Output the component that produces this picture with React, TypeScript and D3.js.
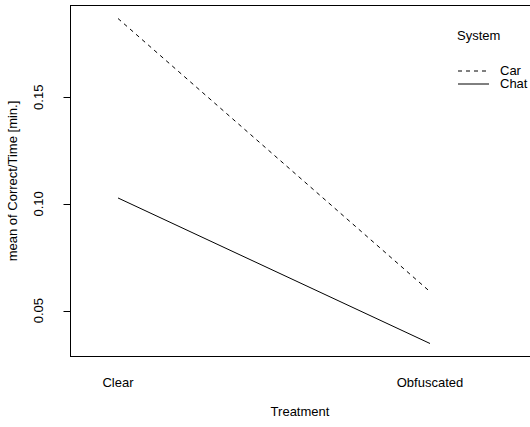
import React from "react";
import * as d3 from "d3";

const treatments = ["Clear", "Obfuscated"];
const systems = ["Car", "Chat"];
const carValues = [0.1869, 0.0589];
const chatValues = [0.1028, 0.0346];
const yTicks = [0.05, 0.1, 0.15];
const yTickLabels = ["0.05", "0.10", "0.15"];
const dashes = ["4,4", null];

export default function App() {
  const W = 530, H = 427;
  const left = 70.5, right = 535.5, top = 5.5, bottom = 356.5;
  const all = [...carValues, ...chatValues];
  const lo = d3.min(all)!, hi = d3.max(all)!;
  const pad = (hi - lo) * 0.04;
  const y = d3.scaleLinear().domain([lo - pad, hi + pad]).range([bottom, top]);
  const x = d3.scalePoint().domain(treatments).range([118, 430]);
  const series = [carValues, chatValues];
  const line = d3.line<number>().x((_, i) => x(treatments[i])!).y((d) => y(d));
  const font = "Liberation Sans, Arial, Helvetica, sans-serif";
  return (
    <svg width={W} height={H} style={{ position: "absolute", left: 0, top: 0 }} fontFamily={font} fontSize={13}>
      <rect x={0} y={0} width={W} height={H} fill="white" />
      <rect x={left} y={top} width={right - left} height={bottom - top} fill="none" stroke="#000" strokeWidth={1} />
      {series.map((s, i) => (
        <path key={i} d={line(s)!} fill="none" stroke="#000" strokeWidth={1} strokeDasharray={dashes[i] ?? undefined} />
      ))}
      {yTicks.map((t, i) => (
        <g key={t}>
          <line x1={left - 7} x2={left} y1={Math.round(y(t)) + 0.5} y2={Math.round(y(t)) + 0.5} stroke="#000" />
          <text transform={`translate(43,${y(t)}) rotate(-90)`} textAnchor="middle">{yTickLabels[i]}</text>
        </g>
      ))}
      {treatments.map((t) => (
        <text key={t} x={x(t)} y={387} textAnchor="middle">{t}</text>
      ))}
      <text x={300} y={416} textAnchor="middle">Treatment</text>
      <text transform={`translate(17,${(top + bottom) / 2}) rotate(-90)`} textAnchor="middle">mean of Correct/Time [min.]</text>
      <text x={457} y={40}>System</text>
      {systems.map((s, i) => (
        <g key={s}>
          <line x1={458} x2={489} y1={71 + i * 13} y2={71 + i * 13} stroke="#000" strokeDasharray={dashes[i] ?? undefined} />
          <text x={500} y={75 + i * 13}>{s}</text>
        </g>
      ))}
    </svg>
  );
}
